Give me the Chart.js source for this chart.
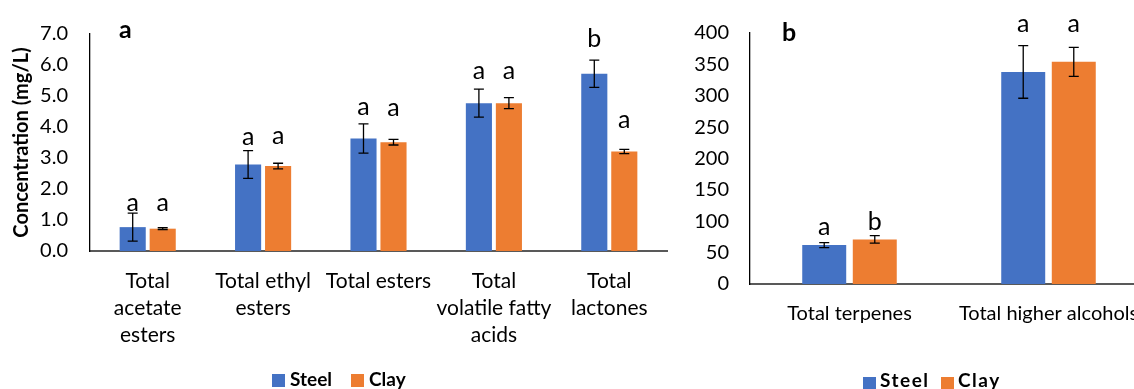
<!DOCTYPE html>
<html>
<head>
<meta charset="utf-8">
<script src="https://cdn.jsdelivr.net/npm/chart.js@4.4.1/dist/chart.umd.min.js"></script>
<style>
  html, body { margin: 0; padding: 0; background: #fff; overflow: hidden; width: 1134px; height: 389px; }
  #wrapA { position: absolute; left: 0; top: 0; width: 690px; height: 389px; }
  #wrapB { position: absolute; left: 690px; top: 0; width: 480px; height: 389px; }
</style>
</head>
<body>
<div id="wrapA"><canvas id="chartA"></canvas></div>
<div id="wrapB"><canvas id="chartB"></canvas></div>
<script>
// ---------- data : panel a ----------
const categoriesA = [['Total', 'acetate', 'esters'], ['Total ethyl', 'esters'], 'Total esters', ['Total', 'volatile fatty', 'acids'], ['Total', 'lactones']];
const steelA = [0.77, 2.79, 3.63, 4.77, 5.72];
const steelErrA = [0.45, 0.45, 0.47, 0.45, 0.44];
const clayA = [0.72, 2.74, 3.51, 4.77, 3.21];
const clayErrA = [0.03, 0.09, 0.09, 0.18, 0.07];
const steelLettersA = ['a', 'a', 'a', 'a', 'b'];
const clayLettersA = ['a', 'a', 'a', 'a', 'a'];
const steelLetterLevelA = [1.30, 3.43, 4.38, 5.55, 6.58];
const clayLetterLevelA = [1.30, 3.46, 4.34, 5.55, 3.98];
const yTicksA = [0, 1, 2, 3, 4, 5, 6, 7];

// ---------- data : panel b ----------
const categoriesB = ['Total terpenes', 'Total higher alcohols'];
const steelB = [62, 338];
const steelErrB = [4, 42];
const clayB = [71, 354];
const clayErrB = [6, 23];
const steelLettersB = ['a', 'a'];
const clayLettersB = ['b', 'a'];
const steelLetterLevelB = [77.7, 402];
const clayLetterLevelB = [86.5, 402];
const yTicksB = [0, 50, 100, 150, 200, 250, 300, 350, 400];

const seriesNames = ['Steel', 'Clay'];
const BLUE = '#4472C4', ORANGE = '#ED7D31';
const FONT = 'Lato, "Open Sans", sans-serif';

const annotPlugin = {
  id: 'annot',
  afterDatasetsDraw(chart, args, opts) {
    const ctx = chart.ctx, y = chart.scales.y;
    ctx.save();
    chart.data.datasets.forEach((ds, di) => {
      const meta = chart.getDatasetMeta(di);
      const errs = opts.errors[di], letters = opts.letters[di], levels = opts.levels[di];
      meta.data.forEach((bar, i) => {
        const v = ds.data[i], e = errs[i];
        const yt = y.getPixelForValue(v + e), yb = y.getPixelForValue(v - e);
        ctx.strokeStyle = '#000';
        ctx.lineWidth = 1.3;
        ctx.beginPath();
        ctx.moveTo(bar.x, yt); ctx.lineTo(bar.x, yb);
        ctx.moveTo(bar.x - opts.cap, yt); ctx.lineTo(bar.x + opts.cap, yt);
        ctx.moveTo(bar.x - opts.cap, yb); ctx.lineTo(bar.x + opts.cap, yb);
        ctx.stroke();
        ctx.fillStyle = '#000';
        ctx.font = '25px ' + FONT;
        ctx.textAlign = 'center';
        ctx.textBaseline = 'alphabetic';
        ctx.fillText(letters[i], bar.x, y.getPixelForValue(levels[i]));
      });
    });
    // panel label
    ctx.font = 'bold 25px ' + FONT;
    ctx.textAlign = 'left';
    ctx.textBaseline = 'alphabetic';
    ctx.fillStyle = '#000';
    ctx.fillText(opts.panel, chart.chartArea.left + opts.panelDx, opts.panelY);
    // legend
    const lg = opts.legend;
    ctx.font = 'bold 19px ' + FONT;
    if (ctx.letterSpacing !== undefined) ctx.letterSpacing = lg.spacing + 'px';
    seriesNames.forEach((n, k) => {
      ctx.fillStyle = k === 0 ? BLUE : ORANGE;
      ctx.fillRect(lg.x[k], lg.boxY, 13, 13);
      ctx.fillStyle = '#000';
      ctx.fillText(n, lg.x[k] + lg.textDx, lg.base);
    });
    ctx.restore();
  }
};

function makeChart(id, cats, s, c, ticks, cfg) {
  return new Chart(document.getElementById(id), {
    type: 'bar',
    data: {
      labels: cats,
      datasets: [
        { label: seriesNames[0], data: s, backgroundColor: BLUE, barPercentage: 0.87, categoryPercentage: cfg.catPct },
        { label: seriesNames[1], data: c, backgroundColor: ORANGE, barPercentage: 0.87, categoryPercentage: cfg.catPct }
      ]
    },
    options: {
      responsive: true,
      maintainAspectRatio: false,
      animation: false,
      layout: { padding: { top: cfg.top, right: cfg.right, left: 0, bottom: 0 } },
      plugins: {
        legend: { display: false },
        tooltip: { enabled: false },
        annot: cfg.annot
      },
      scales: {
        x: {
          grid: { display: false, drawTicks: false },
          border: { display: true, color: '#595959', width: 2 },
          ticks: { color: '#000', font: { family: FONT, size: cfg.xFont, lineHeight: 27 / cfg.xFont }, padding: cfg.xPad, maxRotation: 0, autoSkip: false },
          afterFit: (sc) => { sc.height = cfg.xH; }
        },
        y: {
          min: ticks[0], max: ticks[ticks.length - 1],
          afterBuildTicks: (sc) => { sc.ticks = ticks.map(v => ({ value: v })); },
          grid: { display: false, drawTicks: false },
          border: { display: true, color: '#000', width: 1.3 },
          ticks: { color: '#000', font: { family: FONT, size: 20 }, padding: cfg.yPad, callback: cfg.fmt },
          title: cfg.title,
          afterFit: (sc) => { sc.width = cfg.yW; }
        }
      }
    },
    plugins: [annotPlugin]
  });
}

makeChart('chartA', categoriesA, steelA, clayA, yTicksA, {
  catPct: 0.52, top: 31, right: 23, xH: 138, yW: 90, xPad: 17, yPad: 22, xFont: 21,
  fmt: (v) => Number(v).toFixed(1),
  title: { display: true, text: 'Concentration (mg/L)', color: '#000', font: { family: FONT, size: 20, weight: 'bold' }, padding: { top: 10, bottom: 0 } },
  annot: {
    errors: [steelErrA, clayErrA], letters: [steelLettersA, clayLettersA], levels: [steelLetterLevelA, clayLetterLevelA],
    cap: 5, panel: 'a', panelDx: 29, panelY: 38,
    legend: { x: [272, 351], boxY: 374, textDx: 18, base: 386, spacing: 0 }
  }
});

makeChart('chartB', categoriesB, steelB, clayB, yTicksB, {
  catPct: 0.508, top: 25, right: 22, xH: 105, yW: 60, xPad: 16, yPad: 21, xFont: 20,
  fmt: (v) => String(v),
  title: { display: false },
  annot: {
    errors: [steelErrB, clayErrB], letters: [steelLettersB, clayLettersB], levels: [steelLetterLevelB, clayLetterLevelB],
    cap: 5, panel: 'b', panelDx: 32, panelY: 41,
    legend: { x: [173, 251], boxY: 377, textDx: 17, base: 387, spacing: 1.5 }
  }
});
</script>
</body>
</html>
